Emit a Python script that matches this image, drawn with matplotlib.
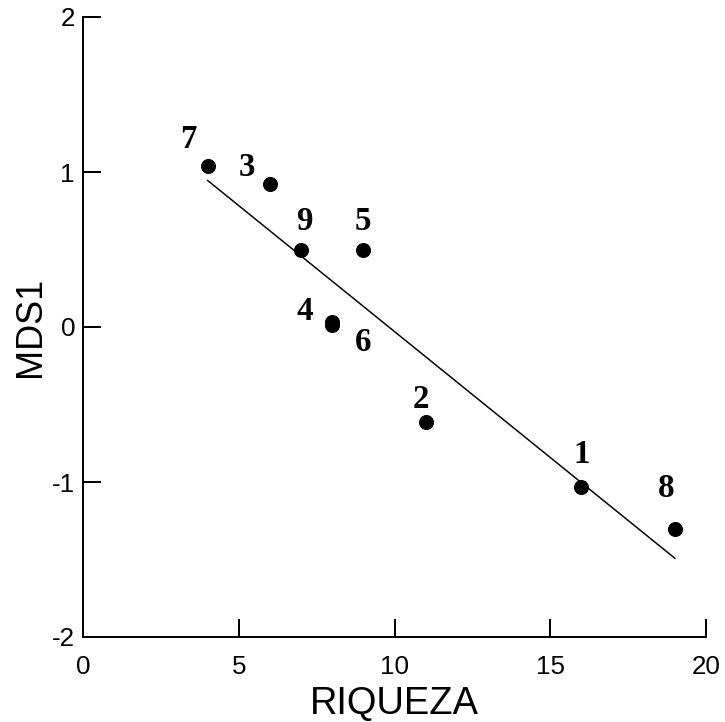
import numpy as np
import matplotlib.pyplot as plt

# site numbers, richness and first MDS axis
sites = ['1', '2', '3', '4', '5', '6', '7', '8', '9']
riqueza = [16, 11, 6, 8, 9, 8, 4, 19, 7]
mds1 = [-1.03, -0.61, 0.92, 0.03, 0.50, 0.01, 1.04, -1.30, 0.50]

# label offsets (points) relative to each marker
offsets = {'1': (0, 32), '2': (-5, 22), '3': (-23, 17), '4': (-27, 11),
           '5': (0, 28), '6': (31, -17), '7': (-19, 26), '8': (-9, 40),
           '9': (3, 28)}

fig = plt.figure(figsize=(725 / 72, 722 / 72), dpi=72)
ax = fig.add_axes([83 / 725, 1 - 637 / 722, 623 / 725, 620 / 722])

x = np.array(riqueza, dtype=float)
y = np.array(mds1)
m, b = np.polyfit(x, y, 1)
xl = np.array([x.min(), x.max()])
ax.plot(xl, m * xl + b, color='black', lw=1.5)

ax.plot(x, y, 'o', color='black', ms=14, ls='none')

for s, xi, yi in zip(sites, x, y):
    dx, dy = offsets[s]
    ax.annotate(s, (xi, yi), xytext=(dx, dy), textcoords='offset points',
                ha='center', va='center', fontsize=33, fontweight='bold',
                family='Liberation Serif')

ax.set_xlim(0, 20)
ax.set_ylim(-2, 2)
ax.set_xticks([0, 5, 10, 15, 20])
ax.set_yticks([-2, -1, 0, 1, 2])
ax.set_yticklabels(['-2', '-1', '0', '1', '2'])

for sp in ['top', 'right']:
    ax.spines[sp].set_visible(False)
for sp in ['left', 'bottom']:
    ax.spines[sp].set_linewidth(2)

ax.tick_params(direction='in', length=18, width=2, labelsize=26)
ax.tick_params(axis='x', pad=18)
ax.tick_params(axis='y', pad=8)
for lab in ax.get_xticklabels() + ax.get_yticklabels():
    lab.set_family('Liberation Sans')

ax.set_xlabel('RIQUEZA', fontsize=38, family='Liberation Sans', labelpad=7)
ax.set_ylabel('MDS1', fontsize=36, family='Liberation Sans', labelpad=4)

fig.savefig('out.png', dpi=72)
